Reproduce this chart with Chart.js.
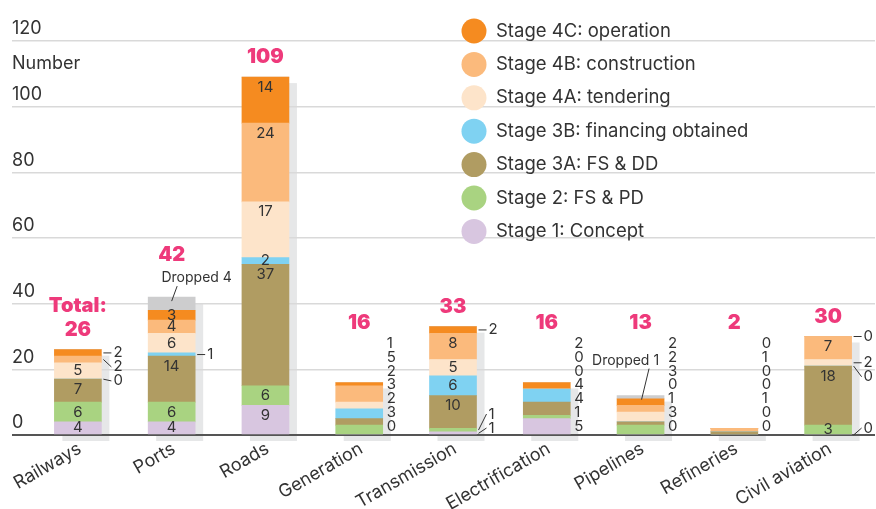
<!DOCTYPE html>
<html>
<head>
<meta charset="utf-8">
<script src="https://cdn.jsdelivr.net/npm/chart.js@4.4.1/dist/chart.umd.min.js"></script>
<style>
  body { margin: 0; background: #fff; }
  #my-chart { display: block; }
</style>
</head>
<body>
<canvas id="my-chart" width="876" height="509"></canvas>
<script>
const categories = ["Railways", "Ports", "Roads", "Generation", "Transmission", "Electrification", "Pipelines", "Refineries", "Civil aviation"];
const stage1 = [4, 4, 9, 0, 1, 5, 0, 0, 0];
const stage2 = [6, 6, 6, 3, 1, 1, 3, 0, 3];
const stage3A = [7, 14, 37, 2, 10, 4, 1, 1, 18];
const stage3B = [0, 1, 2, 3, 6, 4, 0, 0, 0];
const stage4A = [5, 6, 17, 2, 5, 0, 3, 0, 2];
const stage4B = [2, 4, 24, 5, 8, 0, 2, 1, 7];
const stage4C = [2, 3, 14, 1, 2, 2, 2, 0, 0];
const dropped = [0, 4, 0, 0, 0, 0, 1, 0, 0];
const totals = ["26", "42", "109", "16", "33", "16", "13", "2", "30"];
const yTicks = [0, 20, 40, 60, 80, 100, 120];

// how the segment values are written next to each bar
const labelModes = ["mixed", "mixed", "inside", "column", "mixed", "column", "column", "column", "mixed"];
// "Dropped n" notes: offset of the text from the bar centre / dropped segment top
const droppedNotes = { 1: { dx: 25, dy: -19 }, 6: { dx: -15, dy: -35 } };

const FONT = "Inter, Roboto, sans-serif";
const TEXT = "#333333";
const PINK = "#ee3a7b";

const stages = [
  { label: "Stage 1: Concept", data: stage1, color: "#d8c6e0" },
  { label: "Stage 2: FS & PD", data: stage2, color: "#a9d381" },
  { label: "Stage 3A: FS & DD", data: stage3A, color: "#b09c62" },
  { label: "Stage 3B: financing obtained", data: stage3B, color: "#7fd2f2" },
  { label: "Stage 4A: tendering", data: stage4A, color: "#fde4ca" },
  { label: "Stage 4B: construction", data: stage4B, color: "#fbba7c" },
  { label: "Stage 4C: operation", data: stage4C, color: "#f58b20" },
];

const datasets = stages.map((s) => ({
  label: s.label,
  data: s.data,
  backgroundColor: s.color,
  borderWidth: 0,
}));
datasets.push({ label: "Dropped", data: dropped, backgroundColor: "#cdcdce", borderWidth: 0 });

const stackTotal = (i) => datasets.reduce((sum, d) => sum + d.data[i], 0);

// light grey block behind each bar
const shadowPlugin = {
  id: "shadow",
  beforeDraw(chart) {
    const { ctx, scales } = chart;
    const meta = chart.getDatasetMeta(0);
    ctx.save();
    ctx.fillStyle = "#e6e7e8";
    categories.forEach((c, i) => {
      const el = meta.data[i];
      const top = scales.y.getPixelForValue(stackTotal(i));
      const bottom = scales.y.getPixelForValue(0);
      ctx.fillRect(el.x - el.width / 2 + 8, top + 6, el.width, bottom - top);
    });
    ctx.restore();
  },
};

// numbers on / beside the bars, totals and notes
const labelsPlugin = {
  id: "barLabels",
  afterDatasetsDraw(chart) {
    const { ctx, scales } = chart;
    const y = scales.y;
    ctx.save();
    ctx.fillStyle = TEXT;
    ctx.strokeStyle = TEXT;
    ctx.lineWidth = 1;
    ctx.font = "15px " + FONT;
    ctx.textBaseline = "middle";

    categories.forEach((c, i) => {
      const mode = labelModes[i];
      const base = chart.getDatasetMeta(0).data[i];
      const cx = base.x;
      const right = base.x + base.width / 2;
      const outside = [];
      let cum = 0;

      stages.forEach((s, d) => {
        const v = s.data[i];
        const el = chart.getDatasetMeta(d).data[i];
        const segY = y.getPixelForValue(cum + v / 2);
        if (mode === "inside" ? v > 0 : mode === "mixed" && v >= 3) {
          const top = Math.min(el.y, el.base);
          const bot = Math.max(el.y, el.base);
          ctx.textAlign = "center";
          ctx.fillText(String(v), cx, Math.min(top + 10, (top + bot) / 2));
        } else if (mode === "mixed") {
          outside.push({ v, segY });
        }
        cum += v;
      });

      let colTop = null;
      if (mode === "mixed" && outside.length) {
        // top-down, then keep clear of the axis
        outside.reverse();
        outside.forEach((o, k) => {
          o.ly = k === 0 ? o.segY : Math.max(o.segY, outside[k - 1].ly + 14);
        });
        for (let k = outside.length - 1; k >= 0; k--) {
          const limit = k === outside.length - 1 ? 428 : outside[k + 1].ly - 14;
          outside[k].ly = Math.min(outside[k].ly, limit);
        }
        ctx.textAlign = "left";
        outside.forEach((o) => {
          ctx.beginPath();
          ctx.moveTo(right + 2, o.segY);
          ctx.lineTo(right + 10, o.ly);
          ctx.stroke();
          ctx.fillText(String(o.v), right + 12, o.ly);
        });
      } else if (mode === "column") {
        ctx.textAlign = "left";
        const vals = stages.map((s) => s.data[i]).reverse();
        vals.forEach((v, k) => {
          const ly = 426 - (vals.length - 1 - k) * 13.7;
          ctx.fillText(String(v), right + 4, ly);
        });
        colTop = 426 - (vals.length - 1) * 13.7;
      }

      // dropped note
      let noteY = null;
      if (droppedNotes[i]) {
        const n = droppedNotes[i];
        const el = chart.getDatasetMeta(stages.length).data[i];
        const top = Math.min(el.y, el.base);
        noteY = top + n.dy;
        ctx.font = "14px " + FONT;
        ctx.textAlign = "center";
        ctx.fillText("Dropped " + dropped[i], cx + n.dx, noteY);
        ctx.beginPath();
        ctx.moveTo(cx + n.dx * 0.1 + (n.dx < 0 ? 10 : 3), noteY + 8);
        ctx.lineTo(cx + (n.dx < 0 ? 1 : 0), top + 4);
        ctx.stroke();
        ctx.font = "15px " + FONT;
      }

      // total
      let ty;
      if (mode === "column") ty = colTop - 21;
      else if (noteY !== null) ty = noteY - 23;
      else ty = y.getPixelForValue(stackTotal(i)) - 20;
      ctx.save();
      ctx.fillStyle = PINK;
      ctx.font = "900 20px " + FONT;
      ctx.textAlign = "center";
      ctx.fillText(totals[i], cx, ty);
      if (i === 0) ctx.fillText("Total:", cx, ty - 24);
      ctx.restore();
    });
    ctx.restore();
  },
};

// vertical legend, top stage first
const legendPlugin = {
  id: "sideLegend",
  afterDraw(chart) {
    const { ctx } = chart;
    ctx.save();
    ctx.font = "18.5px " + FONT;
    ctx.textBaseline = "middle";
    ctx.textAlign = "left";
    stages.slice().reverse().forEach((s, k) => {
      const ly = 31 + k * 33.4;
      ctx.fillStyle = s.color;
      ctx.beginPath();
      ctx.arc(474, ly, 12.5, 0, Math.PI * 2);
      ctx.fill();
      ctx.fillStyle = TEXT;
      ctx.fillText(s.label, 496, ly);
    });
    ctx.font = "18px " + FONT;
    ctx.fillText("Number", 12, 64);
    ctx.restore();
  },
};

const ctx = document.getElementById("my-chart").getContext("2d");

const myChart = new Chart(ctx, {
  type: "bar",
  data: { labels: categories, datasets },
  plugins: [shadowPlugin, labelsPlugin, legendPlugin],
  options: {
    responsive: false,
    devicePixelRatio: 1,
    animation: false,
    layout: { padding: { top: 41, left: 12, right: 1, bottom: 0 } },
    datasets: { bar: { barThickness: 47 } },
    plugins: { legend: { display: false }, tooltip: { enabled: false } },
    scales: {
      x: {
        stacked: true,
        grid: { display: false },
        border: { display: false },
        ticks: {
          color: TEXT,
          font: { family: FONT, size: 18 },
          autoSkip: false,
          minRotation: 30,
          maxRotation: 30,
          labelOffset: 2,
          padding: -5,
        },
        afterFit: (scale) => { scale.height = 74; },
      },
      y: {
        stacked: true,
        min: 0,
        max: 120,
        afterBuildTicks: (scale) => { scale.ticks = yTicks.map((v) => ({ value: v })); },
        grid: {
          color: (c) => (c.tick && c.tick.value === 0 ? "#555555" : "#d9d9d9"),
          lineWidth: (c) => (c.tick && c.tick.value === 0 ? 2 : 1.5),
          tickLength: 19,
        },
        border: { display: false },
        ticks: {
          color: TEXT,
          font: { family: FONT, size: 18 },
          mirror: true,
          labelOffset: -12,
          padding: -19,
        },
        afterFit: (scale) => { scale.width = 19; },
      },
    },
  },
});
</script>
</body>
</html>
